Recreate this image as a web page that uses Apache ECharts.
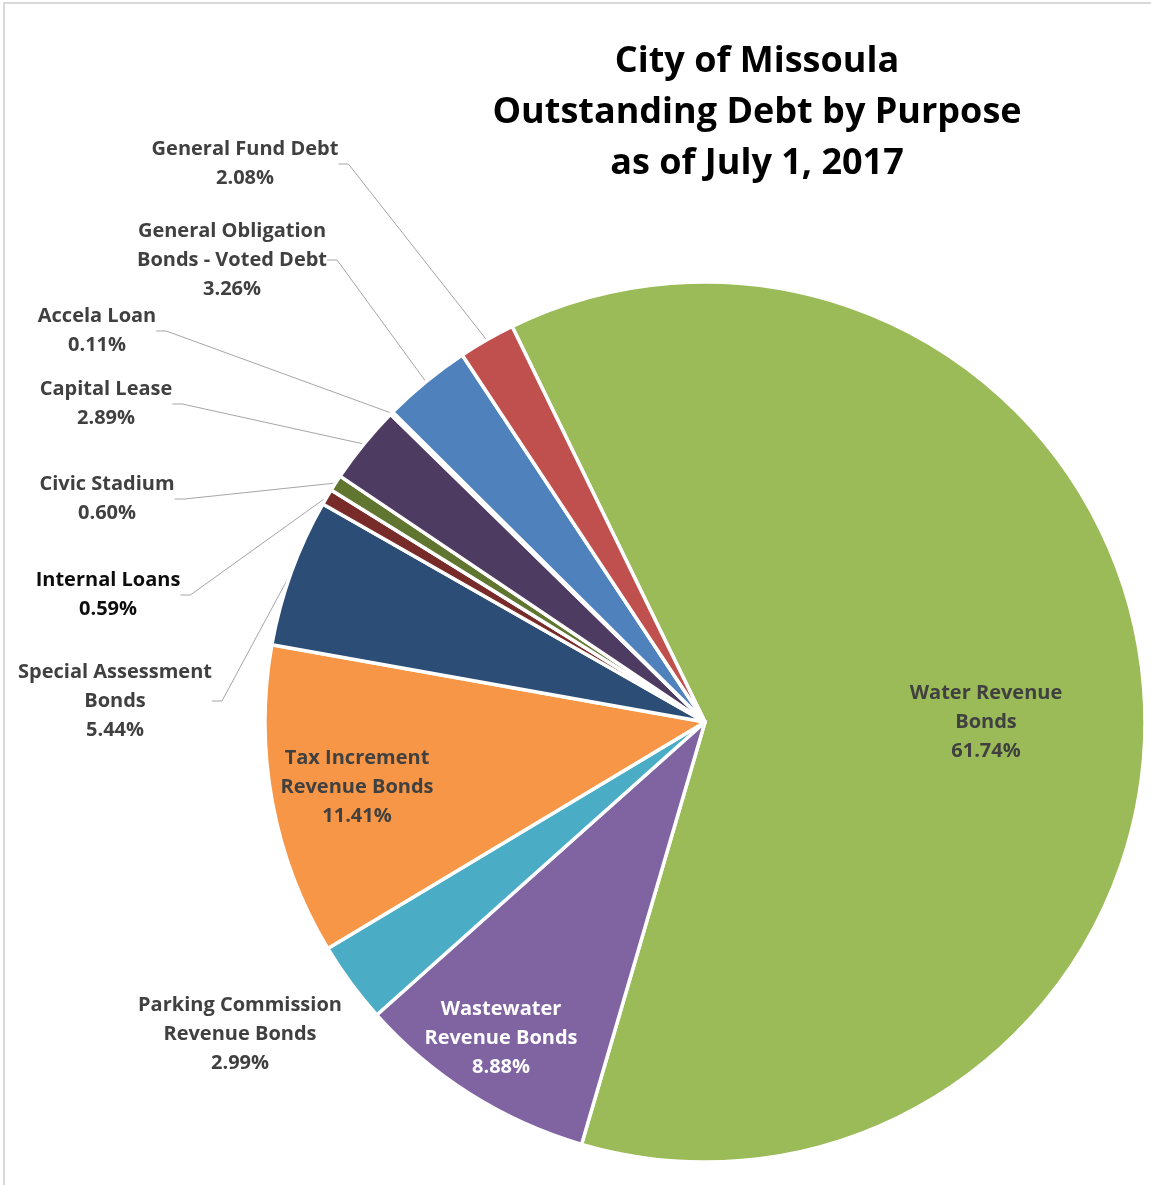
<!DOCTYPE html>
<html>
<head>
<meta charset="utf-8">
<script src="https://cdn.jsdelivr.net/npm/echarts@6/dist/echarts.min.js"></script>
<style>
html,body{margin:0;padding:0;background:#fff;}
#chart{width:1151px;height:1185px;}
</style>
</head>
<body>
<div id="chart"></div>
<script>
// ---- data ----
const categories = [
  'Water Revenue\nBonds',
  'Wastewater\nRevenue Bonds',
  'Parking Commission\nRevenue Bonds',
  'Tax Increment\nRevenue Bonds',
  'Special Assessment\nBonds',
  'Internal Loans',
  'Civic Stadium',
  'Capital Lease',
  'Accela Loan',
  'General Obligation\nBonds - Voted Debt',
  'General Fund Debt'
];
const percentValues = [61.74, 8.88, 2.99, 11.41, 5.44, 0.59, 0.60, 2.89, 0.11, 3.26, 2.08];
const titleLines = ['City of Missoula', 'Outstanding Debt by Purpose', 'as of July 1, 2017'];

// ---- styling ----
const sliceColors = ['#9BBB59', '#8064A2', '#4BACC6', '#F79646', '#2C4D75', '#772C2A',
                     '#5F7530', '#4D3B62', '#276A7C', '#4F81BD', '#C0504D'];
const labelColors = ['#404040', '#ffffff', '#404040', '#404040', '#404040', '#0d0d0d',
                     '#404040', '#404040', '#404040', '#404040', '#404040'];
const showLeader = [false, false, false, false, true, true, true, true, true, true, true];
// label block centres (manually placed labels, as in the original)
const labelPlacement = [
  [986, 722], [501, 1038], [240, 1034], [357, 787], [115, 701], [108, 595],
  [107, 499], [106, 404], [97, 331], [232, 260], [245, 164]
];

const FONT = '"Open Sans", Lato, sans-serif';

const chart = echarts.init(document.getElementById('chart'), null, {renderer: 'canvas'});

const data = categories.map((name, i) => ({
  name: name,
  value: percentValues[i],
  itemStyle: {color: sliceColors[i]},
  label: {color: labelColors[i], position: showLeader[i] ? 'outside' : 'inside'},
  labelLine: {show: showLeader[i]}
}));

chart.setOption({
  animation: false,
  backgroundColor: '#ffffff',
  title: {
    text: titleLines.join('\n'),
    left: 757,
    top: 36,
    textAlign: 'center',
    padding: 0,
    textStyle: {
      fontFamily: FONT,
      fontSize: 36,
      fontWeight: 'bold',
      color: '#000000',
      lineHeight: 51
    }
  },
  graphic: [{
    type: 'rect',
    z: -10,
    shape: {x: 4, y: 3, width: 3000, height: 3000},
    style: {fill: 'none', stroke: '#d9d9d9', lineWidth: 2}
  }],
  series: [{
    type: 'pie',
    center: [705, 722],
    radius: [0, 440],
    startAngle: 116,
    clockwise: true,
    avoidLabelOverlap: false,
    itemStyle: {borderColor: '#ffffff', borderWidth: 3.5},
    label: {
      show: true,
      fontFamily: FONT,
      fontSize: 20,
      fontWeight: 'bold',
      lineHeight: 29,
      align: 'center',
      formatter: p => p.name + '\n' + p.value.toFixed(2) + '%'
    },
    labelLine: {
      lineStyle: {color: '#a6a6a6', width: 1},
      length: 10,
      length2: 10
    },
    labelLayout: function (params) {
      const p = labelPlacement[params.dataIndex];
      return {x: p[0], y: p[1], align: 'center', verticalAlign: 'middle', hideOverlap: false};
    },
    data: data
  }]
});
</script>
</body>
</html>
